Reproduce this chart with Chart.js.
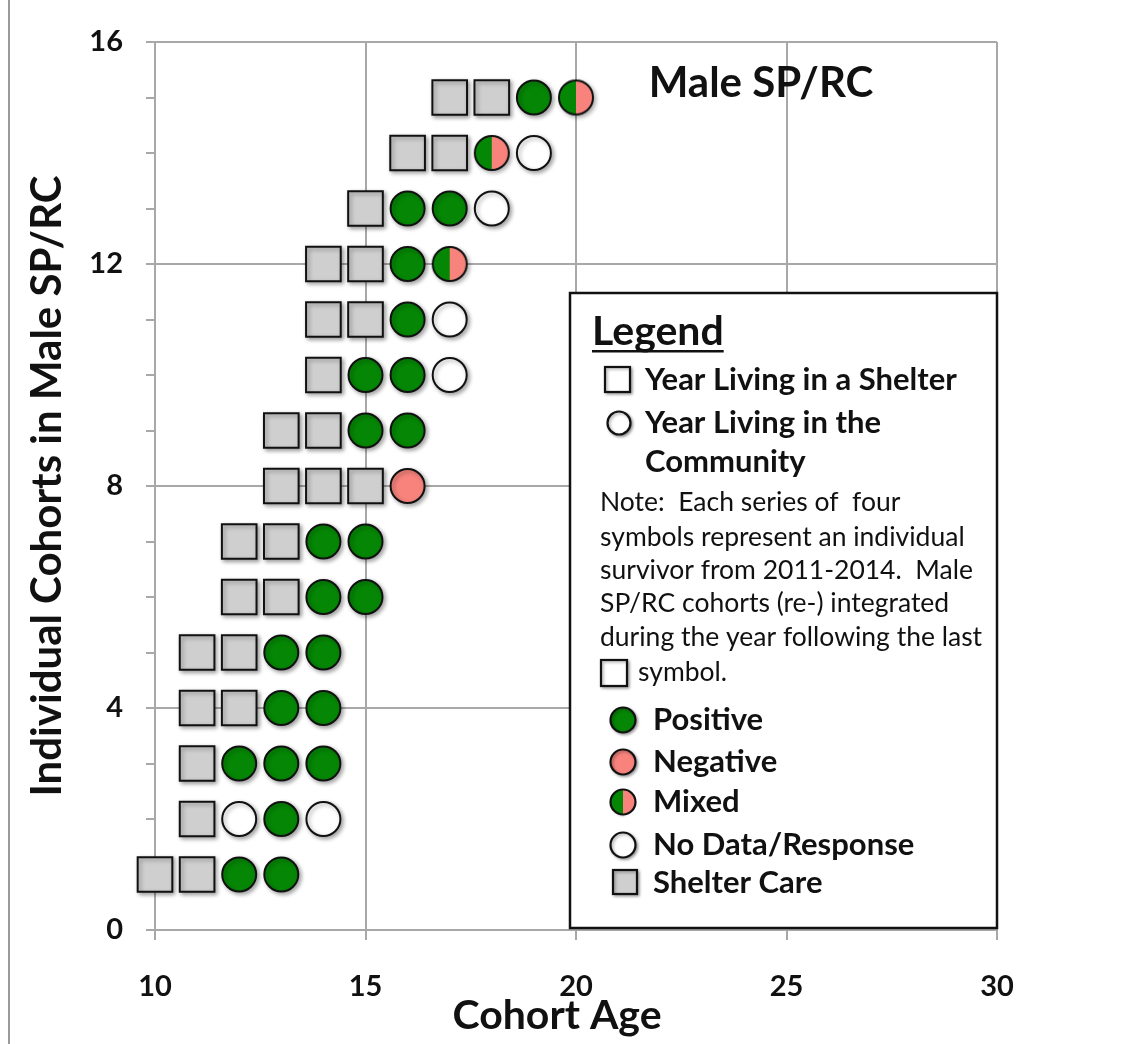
<!DOCTYPE html>
<html><head><meta charset="utf-8">
<script src="https://cdn.jsdelivr.net/npm/chart.js@4.4.1/dist/chart.umd.min.js"></script>
<style>html,body{margin:0;padding:0;background:#fff;}#wrap{width:1124px;height:1044px;position:relative;}</style>
</head><body><div id="wrap"><canvas id="c" width="1124" height="1044"></canvas></div>
<script>
// ---- data ----
const cohorts   = [1,2,3,4,5,6,7,8,9,10,11,12,13,14,15];
const firstAge  = [10,11,11,11,11,12,12,13,13,14,14,14,15,16,17];
// S = shelter care, P = positive, N = negative, M = mixed, X = no data/response
const yearStatus = ['SSPP','SXPX','SPPP','SSPP','SSPP','SSPP','SSPP','SSSN','SSPP','SPPX','SSPX','SSPM','SPPX','SSMX','SSPM'];
const xTicks = [10,15,20,25,30];
const yTicks = [0,4,8,12,16];
const statusCodes = ['S','P','N','M','X'];
const statusNames = ['Shelter Care','Positive','Negative','Mixed','No Data/Response'];

const FONT = 'Lato';
const GRID = '#a8a8a8';
const GREEN = '#058705';
const PINK = '#f8837d';
const GRAY = '#cfcfcf';
const INK = '#111111';

function mixedCanvas(r){
  const c = document.createElement('canvas');
  const s = Math.ceil(r*2+4);
  c.width = s; c.height = s;
  const g = c.getContext('2d');
  const cx = s/2, cy = s/2;
  g.beginPath(); g.arc(cx,cy,r,Math.PI/2,Math.PI*1.5); g.closePath(); g.fillStyle=GREEN; g.fill();
  g.beginPath(); g.arc(cx,cy,r,-Math.PI/2,Math.PI/2); g.closePath(); g.fillStyle=PINK; g.fill();
  g.beginPath(); g.arc(cx,cy,r,0,Math.PI*2); g.lineWidth=2; g.strokeStyle=INK; g.stroke();
  return c;
}
const mixedImg = mixedCanvas(17);

const styleFor = {
  S:{pointStyle:'rect', pointRadius:24.5, backgroundColor:GRAY},
  P:{pointStyle:'circle', pointRadius:17, backgroundColor:GREEN},
  N:{pointStyle:'circle', pointRadius:17, backgroundColor:PINK},
  M:{pointStyle:mixedImg, pointRadius:17, backgroundColor:GREEN},
  X:{pointStyle:'circle', pointRadius:17, backgroundColor:'#ffffff'}
};

const datasets = statusCodes.map((code,k)=>{
  const pts = [];
  yearStatus.forEach((row,i)=>{
    for (let j=0;j<row.length;j++) if (row[j]===code) pts.push({x:firstAge[i]+j, y:cohorts[i]});
  });
  return Object.assign({label:statusNames[k], data:pts, borderColor:INK, borderWidth:2,
    pointBorderColor:INK, pointBorderWidth:2, clip:false, showLine:false}, styleFor[code]);
});

const decor = {
  id:'decor',
  beforeDraw(chart){
    const ctx = chart.ctx;
    ctx.save();
    ctx.fillStyle='#fff'; ctx.fillRect(0,0,chart.width,chart.height);
    ctx.strokeStyle='#9a9a9a'; ctx.lineWidth=2;
    ctx.beginPath(); ctx.moveTo(9,0); ctx.lineTo(9,chart.height); ctx.stroke();
    ctx.restore();
  },
  beforeDatasetsDraw(chart){
    const ctx = chart.ctx; ctx.save();
    ctx.shadowColor='rgba(0,0,0,0.35)'; ctx.shadowBlur=4; ctx.shadowOffsetX=2; ctx.shadowOffsetY=2;
  },
  afterDatasetsDraw(chart){ chart.ctx.restore(); },
  afterDraw(chart){
    const ctx = chart.ctx;
    ctx.save();
    ctx.fillStyle=INK;
    // chart title
    ctx.font = `bold 42px ${FONT}`; ctx.textAlign='center'; ctx.textBaseline='alphabetic';
    ctx.fillText('Male SP/RC', 761, 97);
    // x axis title
    ctx.font = `bold 41px ${FONT}`; ctx.textBaseline='middle';
    ctx.fillText('Cohort Age', 557, 1016);
    // legend box
    ctx.fillStyle='#fff'; ctx.fillRect(570,293,427,635);
    ctx.strokeStyle=INK; ctx.lineWidth=2.5; ctx.strokeRect(570,293,427,635);
    ctx.fillStyle=INK; ctx.textAlign='left'; ctx.textBaseline='middle';
    ctx.font = `bold 41px ${FONT}`;
    ctx.fillText('Legend', 592, 332);
    const lw = ctx.measureText('Legend').width;
    ctx.fillRect(592, 350, lw, 2.5);
    ctx.font = `bold 31px ${FONT}`;
    ctx.fillText('Year Living in a Shelter', 645, 380);
    ctx.fillText('Year Living in the', 645, 423);
    ctx.fillText('Community', 645, 462);
    ctx.font = `26.5px ${FONT}`;
    const note = ['Note:  Each series of  four','symbols represent an individual','survivor from 2011-2014.  Male','SP/RC cohorts (re-) integrated','during the year following the last'];
    const noteY = [502,537,570,603,637];
    note.forEach((t,i)=>ctx.fillText(t, 600, noteY[i]));
    ctx.fillText('symbol.', 638, 672);
    ctx.font = `bold 31px ${FONT}`;
    const items = ['Positive','Negative','Mixed','No Data/Response','Shelter Care'];
    const itemY = [720,762,802,845,883];
    items.forEach((t,i)=>ctx.fillText(t, 653, itemY[i]));
    // legend symbols
    ctx.shadowColor='rgba(0,0,0,0.35)'; ctx.shadowBlur=3; ctx.shadowOffsetX=1.5; ctx.shadowOffsetY=1.5;
    ctx.lineWidth=2.2; ctx.strokeStyle=INK;
    const sq=(x,y,s,fill)=>{ctx.fillStyle=fill; ctx.fillRect(x,y,s,s); ctx.strokeRect(x,y,s,s);};
    const circ=(x,y,r,fill)=>{ctx.beginPath(); ctx.arc(x,y,r,0,Math.PI*2); ctx.fillStyle=fill; ctx.fill(); ctx.stroke();};
    sq(605,367,25,'#fff');
    circ(619,423,11.5,'#fff');
    sq(601,660,26,'#fff');
    circ(623,720,12.5,GREEN);
    circ(623,762,12.5,PINK);
    // mixed
    ctx.beginPath(); ctx.arc(623,802,12.5,Math.PI/2,Math.PI*1.5); ctx.closePath(); ctx.fillStyle=GREEN; ctx.fill();
    ctx.shadowColor='rgba(0,0,0,0)';
    ctx.beginPath(); ctx.arc(623,802,12.5,-Math.PI/2,Math.PI/2); ctx.closePath(); ctx.fillStyle=PINK; ctx.fill();
    ctx.beginPath(); ctx.arc(623,802,12.5,0,Math.PI*2); ctx.stroke();
    ctx.shadowColor='rgba(0,0,0,0.35)';
    circ(623,845,12.5,'#fff');
    sq(613,870,24,GRAY);
    ctx.restore();
  }
};

new Chart(document.getElementById('c'), {
  type:'scatter',
  data:{datasets},
  plugins:[decor],
  options:{
    responsive:false, animation:false, events:[],
    layout:{padding:{left:8, top:42, right:127, bottom:0}},
    plugins:{legend:{display:false}, tooltip:{enabled:false}},
    scales:{
      x:{type:'linear', min:10, max:30,
        afterBuildTicks:s=>{s.ticks = xTicks.map(v=>({value:v}));},
        grid:{color:GRID, lineWidth:2, tickLength:10, tickColor:GRID},
        border:{color:GRID, width:2},
        ticks:{font:{family:FONT, size:29, weight:'bold'}, color:INK, padding:29},
        afterFit:s=>{s.height = 114;}
      },
      y:{type:'linear', min:0, max:16,
        ticks:{stepSize:1, autoSkip:false, callback:v=>yTicks.includes(v)?String(v):'',
          font:{family:FONT, size:29, weight:'bold'}, color:INK, padding:23},
        grid:{color:c=>yTicks.includes(c.tick && c.tick.value)?GRID:'rgba(0,0,0,0)', lineWidth:2, tickLength:9, tickColor:GRID},
        border:{color:GRID, width:2},
        title:{display:true, text:'Individual Cohorts in Male SP/RC', color:INK,
          font:{family:FONT, size:42, weight:'bold'}, padding:{top:14, bottom:0}},
        afterFit:s=>{s.width = 147;}
      }
    }
  }
});
</script></body></html>
